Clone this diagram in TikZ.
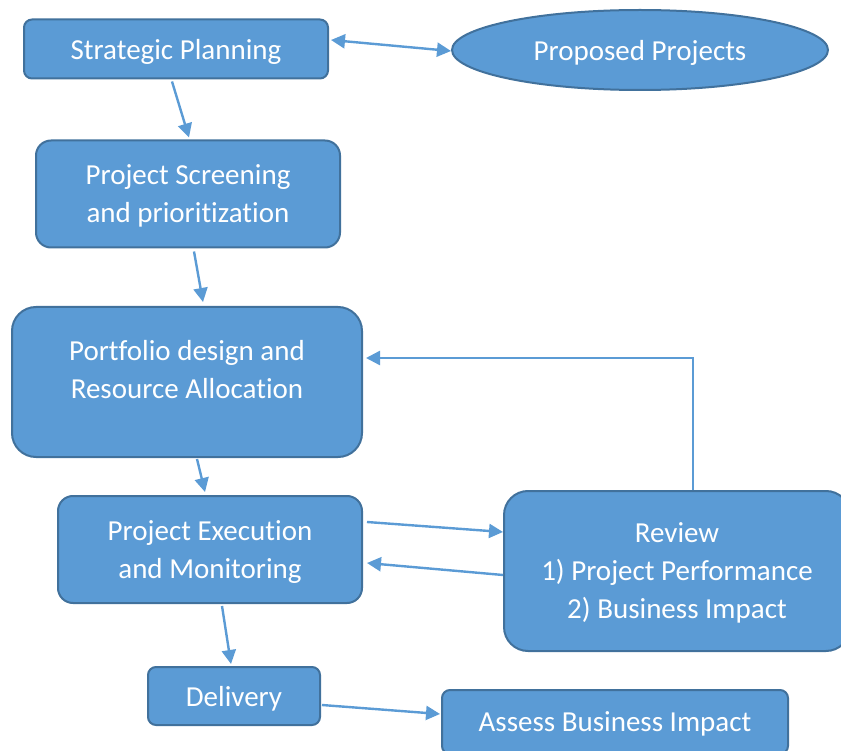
\documentclass[tikz,border=0pt]{standalone}
\usepackage{fontspec}
\setmainfont{Carlito}[Ligatures={NoCommon,NoContextual}]
\usetikzlibrary{shapes.geometric,arrows.meta,calc}
\definecolor{boxfill}{HTML}{5B9BD5}
\definecolor{boxline}{HTML}{41719C}
% keep "t" and "i" as separate glyphs
\newcommand{\tisep}{t\kern0pt i}
\begin{document}
\begin{tikzpicture}[x=1pt,y=-1pt,
  box/.style={draw=boxline, fill=boxfill, line width=2pt, text=white,
    font=\fontsize{29}{38}\selectfont, align=center, inner sep=0pt, text depth=0pt},
  txt/.style={text=white, font=\fontsize{29}{38}\selectfont, align=center,
    inner sep=0pt, text depth=0pt},
  arr/.style={draw=boxfill, line width=2.4pt, -{Triangle[length=14pt,width=14pt]}},
  dblarr/.style={draw=boxfill, line width=2.4pt,
    {Triangle[length=14pt,width=14pt]}-{Triangle[length=14pt,width=14pt]}}]
\useasboundingbox (0,0) rectangle (841,751);
\clip (0,0) rectangle (841,751);

% process boxes
\node[box, rounded corners=8pt, minimum width=304pt, minimum height=59pt]
  (sp) at (176,49) {Strategic Planning};
\node[box, ellipse, minimum width=376pt, minimum height=80pt]
  (pp) at (640,50) {Proposed Projects};
\node[box, rounded corners=15pt, minimum width=304pt, minimum height=107pt]
  (ps) at (188,194) {Project Screening\\and priori\tisep za\tisep on};
\node[box, rounded corners=24pt, minimum width=350pt, minimum height=150pt]
  (pd) at (187,382) {};
\node[txt] (pdtext) at (187,369) {Portfolio design and\\Resource Alloca\tisep on};
\node[box, rounded corners=15pt, minimum width=304pt, minimum height=107pt]
  (pe) at (210,549.5) {Project Execution\\and Monitoring};
\node[box, rounded corners=24pt, minimum width=346pt, minimum height=160pt]
  (rv) at (677,571) {Review\\1) Project Performance\\2) Business Impact};
\node[box, rounded corners=8pt, minimum width=172pt, minimum height=58pt]
  (dl) at (234,696) {Delivery};
\node[box, rounded corners=8pt, minimum width=346pt, minimum height=64pt]
  (as) at (615,722) {Assess Business Impact};

% connectors
\draw[dblarr] ($(sp.east)+(2,-9)$) -- ($(pp.west)+(0,1)$);
\draw[arr] ($(sp.south)+(-4,2)$) -- ($(ps.north)+(1,-2)$);
\draw[arr] ($(ps.south)+(6,3)$) -- ($(pd.north)+(16,-4)$);
\draw[arr] ($(pd.south)+(10,1)$) -- ($(pe.north)+(-5,-3)$);
\draw[arr] ($(pe.east)+(4,-27.5)$) -- ($(rv.west)+(0,-39)$);
\draw[arr] ($(rv.west)+(0,4)$) -- ($(pe.east)+(4,13.5)$);
\draw[arr] ($(rv.north)+(16,0)$) |- ($(pd.east)+(3,-24)$);
\draw[arr] ($(pe.south)+(12,2)$) -- ($(dl.north)+(-3,-2)$);
\draw[arr] ($(dl.east)+(1,9)$) -- ($(as.west)+(-1,-8)$);
\end{tikzpicture}
\end{document}
